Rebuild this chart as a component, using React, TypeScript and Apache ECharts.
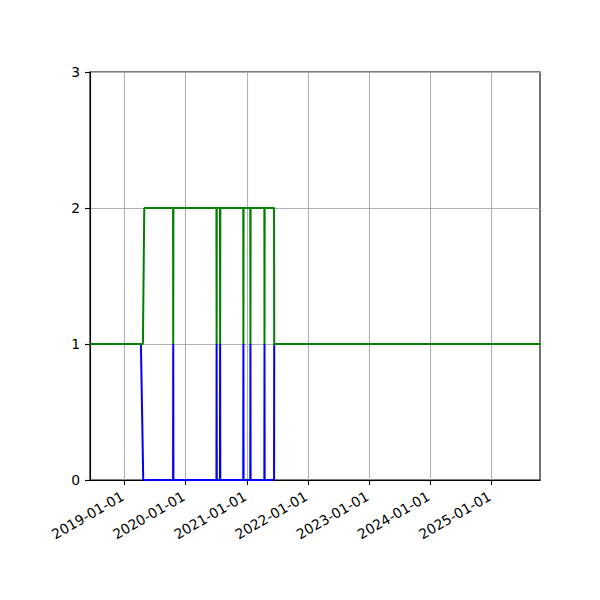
import React, { useEffect, useRef } from "react";
import * as echarts from "echarts";

const xStart = "2018-06-10";
const xEnd = "2025-10-18";
const yearTicks = [
  "2019-01-01",
  "2020-01-01",
  "2021-01-01",
  "2022-01-01",
  "2023-01-01",
  "2024-01-01",
  "2025-01-01",
];

const blueDates = [
  "2018-06-10", "2019-04-10", "2019-04-24",
  "2019-10-19", "2019-10-20", "2019-10-21",
  "2020-07-04", "2020-07-05", "2020-07-06",
  "2020-07-25", "2020-07-26", "2020-07-27",
  "2020-12-11", "2020-12-12", "2020-12-13",
  "2021-01-22", "2021-01-23", "2021-01-24",
  "2021-04-16", "2021-04-17", "2021-04-18",
  "2021-06-13", "2021-06-14", "2025-10-18",
];
const blueValues = [
  1, 1, 0,
  0, 1, 0,
  0, 1, 0,
  0, 1, 0,
  0, 1, 0,
  0, 1, 0,
  0, 1, 0,
  0, 1, 1,
];

const greenDates = [
  "2018-06-10", "2019-04-22", "2019-04-30",
  "2019-10-19", "2019-10-20", "2019-10-21",
  "2020-07-04", "2020-07-05", "2020-07-06",
  "2020-07-25", "2020-07-26", "2020-07-27",
  "2020-12-11", "2020-12-12", "2020-12-13",
  "2021-01-22", "2021-01-23", "2021-01-24",
  "2021-04-16", "2021-04-17", "2021-04-18",
  "2021-06-13", "2021-06-14", "2025-10-18",
];
const greenValues = [
  1, 1, 2,
  2, 1, 2,
  2, 1, 2,
  2, 1, 2,
  2, 1, 2,
  2, 1, 2,
  2, 1, 2,
  2, 1, 1,
];

// local midnight timestamp
const ts = (s: string) => new Date(s + "T00:00:00").getTime();
const pad = (n: number) => (n < 10 ? "0" + n : "" + n);
const fmtDate = (v: number) => {
  const d = new Date(v);
  return `${d.getFullYear()}-${pad(d.getMonth() + 1)}-${pad(d.getDate())}`;
};

const FONT = "DejaVu Sans";

const App = () => {
  const chartRef = useRef<HTMLDivElement>(null);

  useEffect(() => {
    document.body.style.margin = "0";
    const chart = echarts.init(chartRef.current, null, { renderer: "svg" });

    const option = {
      animation: false,
      backgroundColor: "#ffffff",
      textStyle: { fontFamily: FONT },
      grid: {
        left: 90,
        top: 72,
        width: 450,
        height: 408,
        show: true,
        borderColor: "#000",
        borderWidth: 1.1,
        backgroundColor: "transparent",
      },
      xAxis: {
        type: "value",
        min: ts(xStart),
        max: ts(xEnd),
        axisLine: { show: true, lineStyle: { color: "#000", width: 1.1 } },
        axisTick: {
          show: true,
          length: 5,
          lineStyle: { color: "#000", width: 1.1 },
          customValues: yearTicks.map(ts),
        },
        axisLabel: {
          customValues: yearTicks.map(ts),
          formatter: (v: number) => fmtDate(v),
          rotate: 30,
          margin: 14,
          padding: [0, 2, 0, 0],
          color: "#000",
          fontSize: 13.9,
          fontFamily: FONT,
        },
        splitLine: { show: true, lineStyle: { color: "#b0b0b0", width: 1.1 } },
      },
      yAxis: {
        type: "value",
        min: 0,
        max: 3,
        interval: 1,
        axisLine: { show: true, lineStyle: { color: "#000", width: 1.1 } },
        axisTick: { show: true, length: 5, lineStyle: { color: "#000", width: 1.1 } },
        axisLabel: {
          margin: 10,
          color: "#000",
          fontSize: 13.9,
          fontFamily: FONT,
        },
        splitLine: { show: true, lineStyle: { color: "#b0b0b0", width: 1.1 } },
      },
      series: [
        {
          type: "line",
          data: blueDates.map((d, i) => [ts(d), blueValues[i]]),
          showSymbol: false,
          lineStyle: { color: "#0000ff", width: 2 },
          itemStyle: { color: "#0000ff" },
          clip: true,
        },
        {
          type: "line",
          data: greenDates.map((d, i) => [ts(d), greenValues[i]]),
          showSymbol: false,
          lineStyle: { color: "#008000", width: 2 },
          itemStyle: { color: "#008000" },
          clip: true,
        },
      ],
    };
    chart.setOption(option);
    return () => {
      chart.dispose();
    };
  }, []);

  return <div ref={chartRef} style={{ width: "600px", height: "600px" }} />;
};

export default App;
